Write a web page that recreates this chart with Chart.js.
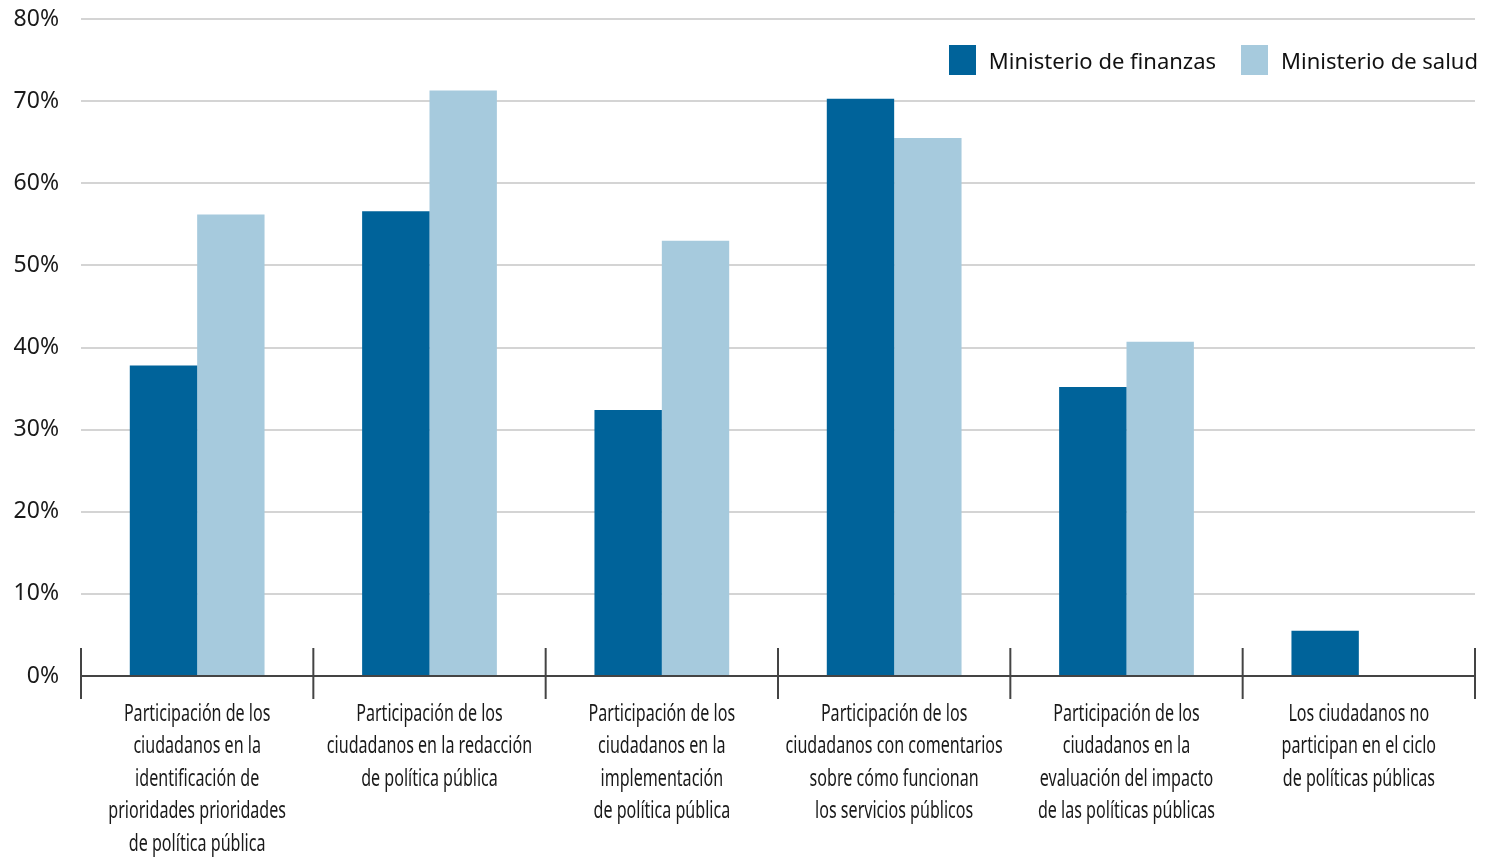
<!DOCTYPE html>
<html>
<head>
<meta charset="utf-8">
<script src="https://cdn.jsdelivr.net/npm/chart.js@4/dist/chart.umd.min.js"></script>
<style>
  html, body { margin: 0; padding: 0; background: #fff; }
  #wrap { position: relative; width: 1486px; height: 858px; }
  #legend { position: absolute; top: 45px; right: 8px; display: flex; align-items: center;
    font-family: 'Noto Sans', sans-serif; font-size: 22px; color: #111; }
  #legend span.box { display: inline-block; width: 27px; height: 30px; margin-right: 13px; }
  #legend span.item { display: flex; align-items: center; margin-left: 25px; }
</style>
</head>
<body>
<div id="wrap"><canvas id="chart"></canvas><div id="legend"></div></div>
<script>
// categories (multi-line labels)
const categories = [
  ['Participación de los', 'ciudadanos en la', 'identificación de', 'prioridades prioridades', 'de política pública'],
  ['Participación de los', 'ciudadanos en la redacción', 'de política pública'],
  ['Participación de los', 'ciudadanos en la', 'implementación', 'de política pública'],
  ['Participación de los', 'ciudadanos con comentarios', 'sobre cómo funcionan', 'los servicios públicos'],
  ['Participación de los', 'ciudadanos en la', 'evaluación del impacto', 'de las políticas públicas'],
  ['Los ciudadanos no', 'participan en el ciclo', 'de políticas públicas']
];

const finanzas = [37.8, 56.6, 32.4, 70.3, 35.2, 5.5];
const salud = [56.2, 71.3, 53.0, 65.5, 40.7, 0];

const yTicks = [0, 10, 20, 30, 40, 50, 60, 70, 80];

const darkBlue = '#00639a';
const lightBlue = '#a6cadd';

const labelFont = { family: 'Noto Sans', size: 24, lineHeight: 1.355 };
const labelSquash = 0.67; // no condensed font installed, so squeeze the labels

/**
 * draws the boundary ticks that cross the x axis line
 */
const boundaryTicks = {
  id: 'boundaryTicks',
  afterDraw(chart) {
    const { ctx, scales } = chart;
    const x = scales.x;
    const y0 = scales.y.getPixelForValue(0);
    ctx.save();
    ctx.strokeStyle = '#444';
    ctx.lineWidth = 2;
    for (let i = 0; i <= categories.length; i++) {
      // boundary between categories i-1 and i
      const px = x.getPixelForValue(i - 0.5);
      ctx.beginPath();
      ctx.moveTo(px, y0 - 28);
      ctx.lineTo(px, y0 + 23);
      ctx.stroke();
    }
    ctx.restore();
  }
};

/**
 * draws the category labels, squeezed horizontally
 */
const condensedLabels = {
  id: 'condensedLabels',
  afterDraw(chart) {
    const { ctx, scales } = chart;
    const x = scales.x;
    const y0 = scales.y.getPixelForValue(0);
    const lh = labelFont.size * labelFont.lineHeight;
    ctx.save();
    ctx.font = `${labelFont.size}px '${labelFont.family}'`;
    ctx.fillStyle = '#1a1a1a';
    ctx.textAlign = 'center';
    ctx.textBaseline = 'middle';
    categories.forEach((lines, i) => {
      const cx = x.getPixelForValue(i);
      lines.forEach((line, j) => {
        ctx.save();
        ctx.translate(cx, y0 + 38 + j * lh);
        ctx.scale(labelSquash, 1);
        ctx.fillText(line, 0, 0);
        ctx.restore();
      });
    });
    ctx.restore();
  }
};

const canvas = document.getElementById('chart').getContext('2d');

const chart = new Chart(canvas, {
  type: 'bar',
  data: {
    labels: categories,
    datasets: [
      { label: 'Ministerio de finanzas', data: finanzas, backgroundColor: darkBlue },
      { label: 'Ministerio de salud', data: salud, backgroundColor: lightBlue }
    ]
  },
  options: {
    responsive: true,
    maintainAspectRatio: false,
    animation: false,
    layout: { padding: { top: 19, right: 11, bottom: 0, left: 0 } },
    datasets: {
      bar: { categoryPercentage: 0.58, barPercentage: 1 }
    },
    plugins: {
      tooltip: { enabled: false },
      legend: { display: false }
    },
    scales: {
      x: {
        grid: { display: false },
        border: { display: true, color: '#444', width: 2 },
        ticks: { display: false },
        afterFit: axis => {
          axis.height = 182;
        }
      },
      y: {
        min: 0,
        max: 80,
        afterBuildTicks: axis => {
          axis.ticks = yTicks.map(v => ({ value: v }));
        },
        afterFit: axis => {
          axis.width = 81;
          axis.paddingTop = 0;
          axis.paddingBottom = 0;
        },
        grid: { color: '#d4d4d4', lineWidth: 2, drawTicks: false },
        border: { display: false },
        ticks: {
          color: '#1a1a1a',
          padding: 22,
          font: { family: 'Noto Sans', size: 23 },
          callback: v => v + '%'
        }
      }
    }
  },
  plugins: [boundaryTicks, condensedLabels]
});

// html legend, built from the datasets
const legend = document.getElementById('legend');
chart.data.datasets.forEach(ds => {
  const item = document.createElement('span');
  item.className = 'item';
  const box = document.createElement('span');
  box.className = 'box';
  box.style.background = ds.backgroundColor;
  item.appendChild(box);
  item.appendChild(document.createTextNode(ds.label));
  legend.appendChild(item);
});
</script>
</body>
</html>
